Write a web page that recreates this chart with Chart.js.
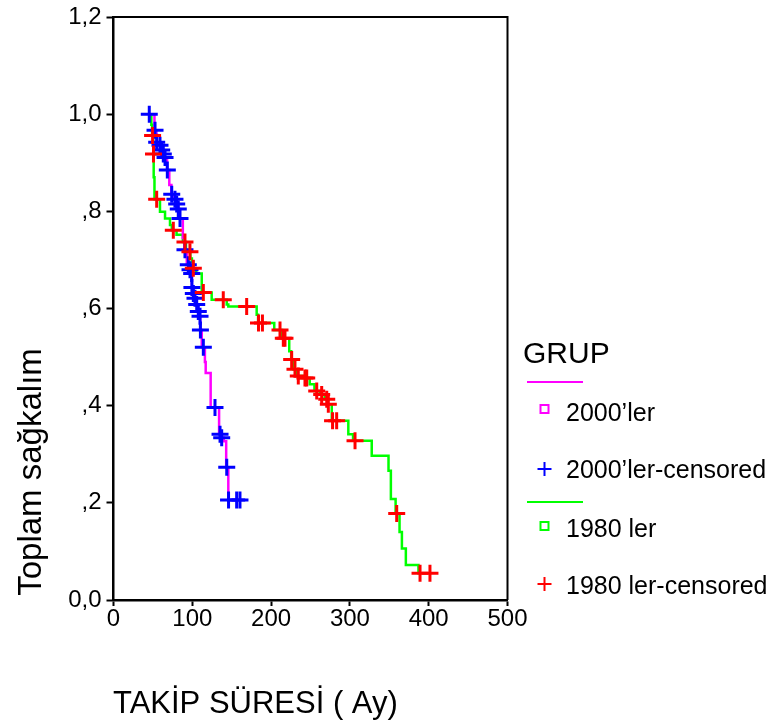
<!DOCTYPE html>
<html>
<head>
<meta charset="utf-8">
<title>Toplam sağkalım</title>
<script src="https://cdn.jsdelivr.net/npm/chart.js"></script>
<style>
  html, body { margin: 0; padding: 0; background: #fff; }
  #wrap { width: 776px; height: 722px; position: relative; }
</style>
</head>
<body>
<div id="wrap"><canvas id="survivalChart"></canvas></div>
<script>
// axis + legend texts
const xTitle = 'TAKİP SÜRESİ ( Ay)';
const yTitle = 'Toplam sağkalım';
const legendTitle = 'GRUP';
const legendLabels = ['2000’ler', '2000’ler-censored', '1980 ler', '1980 ler-censored'];
const xTickLabels = ['0', '100', '200', '300', '400', '500'];
const yTickLabels = ['0,0', ',2', ',4', ',6', ',8', '1,0', '1,2'];

// 2000'ler: Kaplan-Meier steps (time in months, survival after the step)
const recentTimes = [45, 52, 54.5, 58.5, 61, 63, 65, 68, 70.8, 73.5, 77.5, 80, 82, 84, 88, 90,
    93, 96, 98.5, 99.5, 101, 103, 105, 107, 109, 110, 112, 116, 117, 123.3, 134, 137, 140, 143, 145.7, 160.5];
const recentSurv = [1.0, 0.967, 0.942, 0.936, 0.926, 0.918, 0.911, 0.885, 0.854, 0.835, 0.825, 0.815, 0.805, 0.785, 0.745, 0.721,
    0.69, 0.68, 0.672, 0.643, 0.631, 0.621, 0.608, 0.594, 0.584, 0.556, 0.52, 0.49, 0.467, 0.396, 0.341, 0.334, 0.327, 0.273, 0.206, 0.206];
// 2000'ler censored cases
const recentCensTimes = [45.4, 52.7, 54.8, 59, 61.2, 63.2, 65.4, 68.3, 73.9, 78, 80.2, 82.2, 84.4, 90.7,
    94.9, 97.1, 99.2, 99.5, 101.3, 103.4, 105.6, 107.6, 109.8, 110.3, 114, 128.8, 135.2, 137.3, 143.7, 146, 156.3, 160.5];
const recentCensSurv = [1.0, 0.967, 0.942, 0.936, 0.926, 0.918, 0.911, 0.885, 0.835, 0.825, 0.815, 0.805, 0.785, 0.721,
    0.69, 0.68, 0.672, 0.643, 0.631, 0.621, 0.608, 0.594, 0.584, 0.556, 0.52, 0.396, 0.341, 0.334, 0.273, 0.206, 0.206, 0.206];

// 1980 ler: Kaplan-Meier steps
const oldTimes = [47, 48, 49, 50.5, 51, 52, 59, 65.4, 71.7, 74, 80, 88, 92, 97.5, 99.5, 101, 105, 112, 124.6, 143.7, 145.7,
    181.7, 183.5, 204, 214, 223, 225.5, 228, 232, 240, 249, 255, 262, 268, 272, 277, 298, 304, 327.7, 349, 352, 358, 363, 366, 371, 387, 388];
const oldSurv = [1.0, 0.978, 0.956, 0.918, 0.87, 0.825, 0.799, 0.785, 0.772, 0.761, 0.752, 0.737, 0.717, 0.703, 0.696, 0.683, 0.672, 0.633, 0.618, 0.608, 0.604,
    0.587, 0.570, 0.556, 0.539, 0.512, 0.495, 0.475, 0.461, 0.457, 0.444, 0.430, 0.423, 0.413, 0.403, 0.369, 0.341, 0.328, 0.297, 0.266, 0.208, 0.178, 0.140, 0.106, 0.072, 0.055, 0.055];
// 1980 ler censored cases
const oldCensTimes = [49.6, 50.8, 54.8, 75.9, 90.7, 97, 101.3, 114, 139.3, 169, 184, 189, 211.3, 215.5, 217.6,
    226.1, 230.3, 234.5, 243, 245.2, 257.9, 264.2, 270.6, 272.6, 278, 283.2, 306.5, 359.4, 389, 401.6];
const oldCensSurv = [0.956, 0.918, 0.825, 0.761, 0.737, 0.717, 0.683, 0.633, 0.618, 0.604, 0.570, 0.570, 0.556, 0.539, 0.539,
    0.495, 0.475, 0.461, 0.457, 0.457, 0.430, 0.423, 0.413, 0.403, 0.369, 0.369, 0.328, 0.178, 0.055, 0.055];

const toPoints = (xs, ys) => xs.map((x, i) => ({ x: x, y: ys[i] }));

const FONT = '"Liberation Sans", Arial, Helvetica, sans-serif';
const MAGENTA = '#ff00ff', BLUE = '#0000ff', GREEN = '#00ff00', RED = '#ff0000';

// frame, axis titles and the SPSS style legend
const decorations = {
    id: 'decorations',
    afterDraw(chart) {
        const ctx = chart.ctx;
        const a = chart.chartArea;
        ctx.save();

        ctx.strokeStyle = '#000';
        ctx.lineWidth = 2;
        ctx.beginPath();
        ctx.moveTo(a.left, a.top);
        ctx.lineTo(a.right, a.top);
        ctx.lineTo(a.right, a.bottom);
        ctx.stroke();

        ctx.fillStyle = '#000';
        ctx.font = '31px ' + FONT;
        ctx.textAlign = 'left';
        ctx.textBaseline = 'alphabetic';
        ctx.fillText(xTitle, 113, 713);

        ctx.save();
        ctx.translate(41, 472);
        ctx.rotate(-Math.PI / 2);
        ctx.textAlign = 'center';
        ctx.font = '33px ' + FONT;
        ctx.fillText(yTitle, 0, 0);
        ctx.restore();

        // legend
        ctx.font = '30px ' + FONT;
        ctx.fillText(legendTitle, 523, 363);

        const markX = 544.5;
        const textX = 566;
        ctx.font = '25px ' + FONT;

        const lineSample = (y, color) => {
            ctx.strokeStyle = color;
            ctx.lineWidth = 2;
            ctx.beginPath();
            ctx.moveTo(527, y);
            ctx.lineTo(583, y);
            ctx.stroke();
        };
        const square = (y, color) => {
            ctx.strokeStyle = color;
            ctx.lineWidth = 2;
            ctx.strokeRect(markX - 4, y - 4, 8, 8);
        };
        const cross = (y, color) => {
            ctx.strokeStyle = color;
            ctx.lineWidth = 2;
            ctx.beginPath();
            ctx.moveTo(markX - 7, y);
            ctx.lineTo(markX + 7, y);
            ctx.moveTo(markX, y - 7);
            ctx.lineTo(markX, y + 7);
            ctx.stroke();
        };

        lineSample(382, MAGENTA);
        square(409, MAGENTA);
        ctx.fillText(legendLabels[0], textX, 421);
        cross(469, BLUE);
        ctx.fillText(legendLabels[1], textX, 478);
        lineSample(502, GREEN);
        square(526, GREEN);
        ctx.fillText(legendLabels[2], textX, 537);
        cross(584, RED);
        ctx.fillText(legendLabels[3], textX, 594);

        ctx.restore();
    }
};

new Chart(document.getElementById('survivalChart'), {
    type: 'line',
    data: {
        datasets: [
            {
                label: legendLabels[3],
                type: 'scatter',
                data: toPoints(oldCensTimes, oldCensSurv),
                pointStyle: 'cross',
                pointRadius: 8.5,
                borderColor: RED,
                backgroundColor: RED,
                borderWidth: 3,
                showLine: false,
                order: 1
            },
            {
                label: legendLabels[1],
                type: 'scatter',
                data: toPoints(recentCensTimes, recentCensSurv),
                pointStyle: 'cross',
                pointRadius: 8.5,
                borderColor: BLUE,
                backgroundColor: BLUE,
                borderWidth: 3,
                showLine: false,
                order: 2
            },
            {
                label: legendLabels[0],
                data: toPoints(recentTimes, recentSurv),
                stepped: true,
                borderColor: MAGENTA,
                borderWidth: 2.5,
                pointRadius: 0,
                fill: false,
                order: 3
            },
            {
                label: legendLabels[2],
                data: toPoints(oldTimes, oldSurv),
                stepped: true,
                borderColor: GREEN,
                borderWidth: 2.5,
                pointRadius: 0,
                fill: false,
                order: 4
            }
        ]
    },
    options: {
        responsive: true,
        maintainAspectRatio: false,
        animation: false,
        layout: { padding: { left: 0, top: 14, right: 268.5, bottom: 0 } },
        plugins: {
            legend: { display: false },
            tooltip: { enabled: false }
        },
        scales: {
            x: {
                type: 'linear',
                min: 0,
                max: 500,
                afterFit: scale => { scale.height = 122; },
                ticks: {
                    stepSize: 100,
                    padding: 1,
                    color: '#000',
                    font: { family: FONT, size: 24, lineHeight: 1 },
                    maxRotation: 0,
                    callback: (value, index) => xTickLabels[index]
                },
                grid: {
                    drawOnChartArea: false,
                    color: '#000',
                    tickLength: 6,
                    tickWidth: 2
                },
                border: { display: true, color: '#000', width: 2.5 }
            },
            y: {
                type: 'linear',
                min: 0,
                max: 1.2,
                afterFit: scale => { scale.width = 113.5; },
                ticks: {
                    stepSize: 0.2,
                    padding: 5,
                    color: '#000',
                    font: { family: FONT, size: 24, lineHeight: 1 },
                    callback: (value, index) => yTickLabels[index]
                },
                grid: {
                    drawOnChartArea: false,
                    color: '#000',
                    tickLength: 7,
                    tickWidth: 2
                },
                border: { display: true, color: '#000', width: 2.5 }
            }
        }
    },
    plugins: [decorations]
});
</script>
</body>
</html>
